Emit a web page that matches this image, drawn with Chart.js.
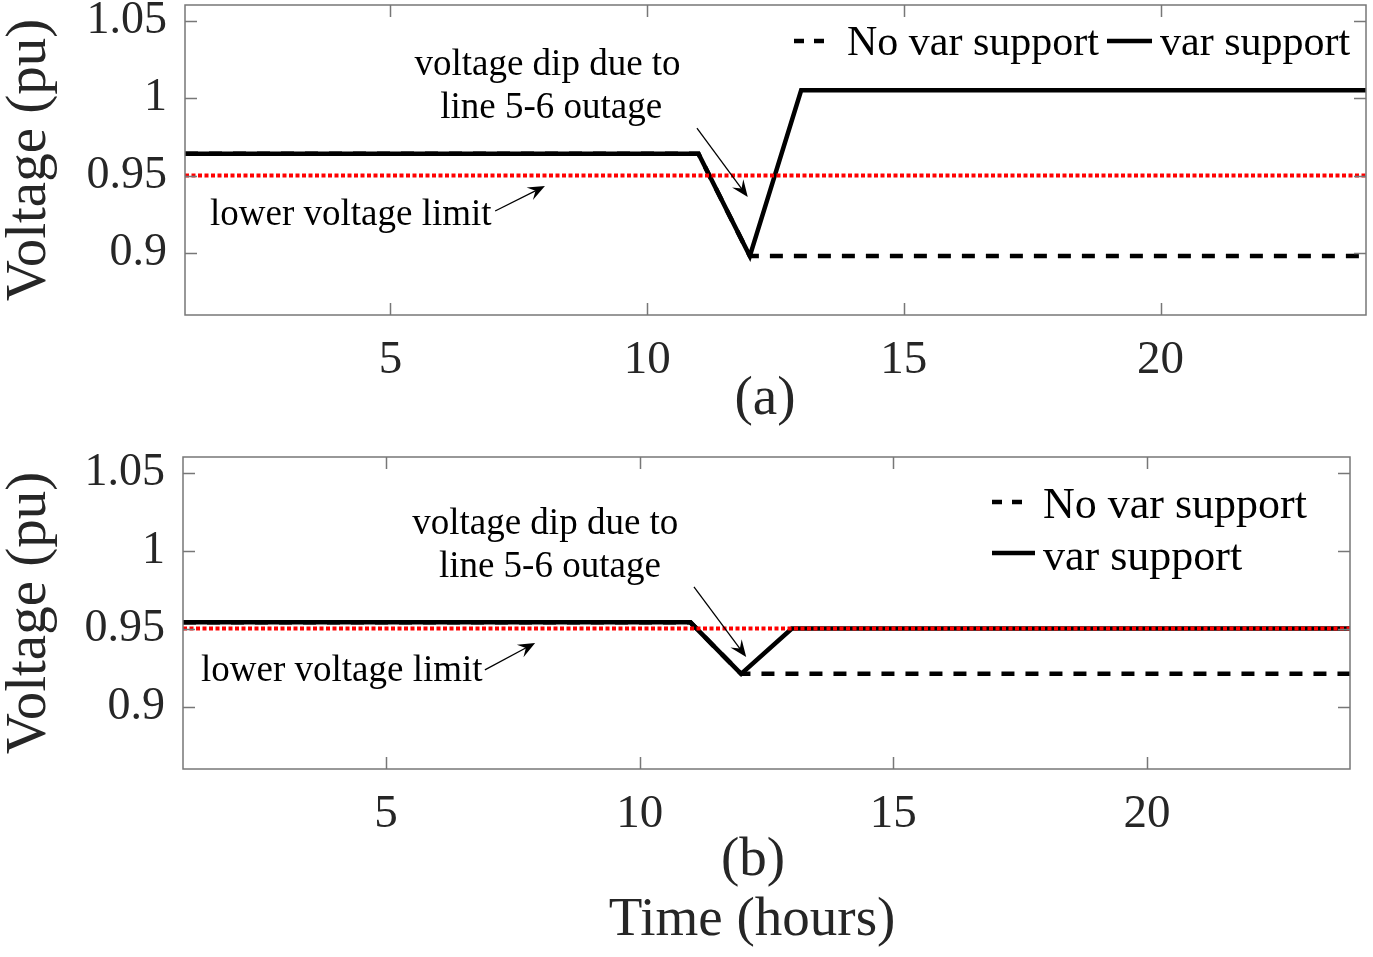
<!DOCTYPE html>
<html>
<head>
<meta charset="utf-8">
<script src="https://cdn.jsdelivr.net/npm/chart.js@4.4.0/dist/chart.umd.min.js"></script>
<style>
  html, body { margin: 0; padding: 0; background: #fff; }
  #wrap { position: relative; width: 1373px; height: 957px; }
  .box { position: absolute; left: 0; width: 1373px; }
</style>
</head>
<body>
<div id="wrap">
  <div class="box" style="top:0;height:440px"><canvas id="chartA"></canvas></div>
  <div class="box" style="top:440px;height:517px"><canvas id="chartB"></canvas></div>
</div>
<script>
// hours of the day
const hours = [1, 2, 3, 4, 5, 6, 7, 8, 9, 10, 11, 12, 13, 14, 15, 16, 17, 18, 19, 20, 21, 22, 23, 24];
const xTicks = [5, 10, 15, 20];
const yTicks = [0.9, 0.95, 1, 1.05];
const yTickLabels = ['0.9', '0.95', '1', '1.05'];

// lower voltage limit line
const limitHours = [1, 24];
const limitVals = [0.95, 0.95];

// (a)
const noVarA = [0.964, 0.964, 0.964, 0.964, 0.964, 0.964, 0.964, 0.964, 0.964, 0.964, 0.964, 0.898,
                0.898, 0.898, 0.898, 0.898, 0.898, 0.898, 0.898, 0.898, 0.898, 0.898, 0.898, 0.898];
const varA   = [0.964, 0.964, 0.964, 0.964, 0.964, 0.964, 0.964, 0.964, 0.964, 0.964, 0.964, 0.898,
                1.005, 1.005, 1.005, 1.005, 1.005, 1.005, 1.005, 1.005, 1.005, 1.005, 1.005, 1.005];

// (b)
const noVarB = [0.954, 0.954, 0.954, 0.954, 0.954, 0.954, 0.954, 0.954, 0.954, 0.954, 0.954, 0.921,
                0.921, 0.921, 0.921, 0.921, 0.921, 0.921, 0.921, 0.921, 0.921, 0.921, 0.921, 0.921];
const varB   = [0.954, 0.954, 0.954, 0.954, 0.954, 0.954, 0.954, 0.954, 0.954, 0.954, 0.954, 0.921,
                0.95, 0.95, 0.95, 0.95, 0.95, 0.95, 0.95, 0.95, 0.95, 0.95, 0.95, 0.95];

const SERIF = '"Liberation Serif", "Times New Roman", serif';

function pts(xs, ys) {
  return xs.map((x, i) => ({ x: x, y: ys[i] }));
}

function drawArrow(ctx, x0, y0, x1, y1) {
  const ang = Math.atan2(y1 - y0, x1 - x0);
  const len = 17, half = 7;
  ctx.beginPath();
  ctx.moveTo(x0, y0);
  ctx.lineTo(x1 - Math.cos(ang) * len * 0.6, y1 - Math.sin(ang) * len * 0.6);
  ctx.stroke();
  const bx = x1 - Math.cos(ang) * len, by = y1 - Math.sin(ang) * len;
  const nx = x1 - Math.cos(ang) * len * 0.62, ny = y1 - Math.sin(ang) * len * 0.62;
  ctx.beginPath();
  ctx.moveTo(x1, y1);
  ctx.lineTo(bx - Math.sin(ang) * half, by + Math.cos(ang) * half);
  ctx.lineTo(nx, ny);
  ctx.lineTo(bx + Math.sin(ang) * half, by - Math.cos(ang) * half);
  ctx.closePath();
  ctx.fill();
}

// frame with inward ticks, notes, arrows, x labels and legend
const extras = {
  id: 'extras',
  afterDraw(chart, args, opts) {
    const ctx = chart.ctx;
    const { left, right, top, bottom } = chart.chartArea;
    const xs = chart.scales.x, ys = chart.scales.y;
    ctx.save();

    ctx.strokeStyle = '#777';
    ctx.lineWidth = 1.5;
    ctx.setLineDash([]);
    ctx.strokeRect(left, top, right - left, bottom - top);
    ctx.beginPath();
    xTicks.forEach(v => {
      const px = Math.round(xs.getPixelForValue(v)) + 0.5;
      ctx.moveTo(px, bottom); ctx.lineTo(px, bottom - 12);
      ctx.moveTo(px, top); ctx.lineTo(px, top + 12);
    });
    yTicks.forEach(v => {
      const py = Math.round(ys.getPixelForValue(v)) + 0.5;
      ctx.moveTo(left, py); ctx.lineTo(left + 12, py);
      ctx.moveTo(right, py); ctx.lineTo(right - 12, py);
    });
    ctx.stroke();

    // x axis labels
    ctx.fillStyle = '#262626';
    ctx.textAlign = 'center';
    ctx.textBaseline = 'middle';
    ctx.font = '55px ' + SERIF;
    opts.xLabels.forEach(t => ctx.fillText(t.text, t.x, t.y));

    // text notes
    ctx.fillStyle = '#000';
    ctx.textBaseline = 'alphabetic';
    ctx.font = '37px ' + SERIF;
    opts.notes.forEach(n => {
      ctx.textAlign = n.align;
      ctx.fillText(n.text, xs.getPixelForValue(n.x), ys.getPixelForValue(n.y));
    });

    // arrows
    ctx.strokeStyle = '#000';
    ctx.lineWidth = 1.3;
    opts.arrows.forEach(a => {
      drawArrow(ctx, xs.getPixelForValue(a.x0), ys.getPixelForValue(a.y0),
                xs.getPixelForValue(a.x1), ys.getPixelForValue(a.y1));
    });

    // legend
    ctx.font = opts.legendFont + 'px ' + SERIF;
    ctx.textAlign = 'left';
    opts.legend.forEach(item => {
      const ds = chart.data.datasets[item.ds];
      ctx.strokeStyle = ds.borderColor;
      ctx.lineWidth = ds.borderWidth;
      ctx.setLineDash(item.dash || []);
      ctx.beginPath();
      ctx.moveTo(item.lx0, item.ly);
      ctx.lineTo(item.lx1, item.ly);
      ctx.stroke();
      ctx.setLineDash([]);
      ctx.fillText(ds.label, item.tx, item.ty);
    });
    ctx.restore();
  }
};

function makeChart(id, noVar, withVar, cfg) {
  return new Chart(document.getElementById(id), {
    type: 'line',
    data: {
      datasets: [
        {
          label: 'lower voltage limit',
          data: pts(limitHours, limitVals),
          borderColor: '#ff0000',
          borderWidth: 4,
          borderDash: [4, 2.5],
          pointRadius: 0,
          tension: 0
        },
        {
          label: 'var support',
          data: pts(hours, withVar),
          borderColor: '#000',
          borderWidth: 4.5,
          pointRadius: 0,
          tension: 0
        },
        {
          label: 'No var support',
          data: pts(hours, noVar),
          borderColor: '#000',
          borderWidth: 4.5,
          borderDash: [13, 11],
          pointRadius: 0,
          tension: 0
        }
      ]
    },
    options: {
      responsive: true,
      maintainAspectRatio: false,
      animation: false,
      layout: { padding: { top: cfg.padTop, right: cfg.padRight, left: 0, bottom: 0 } },
      plugins: {
        legend: { display: false },
        tooltip: { enabled: false },
        extras: cfg.extras
      },
      scales: {
        x: {
          type: 'linear',
          min: 1,
          max: 24,
          grid: { display: false, drawTicks: false },
          border: { display: false },
          afterBuildTicks: s => { s.ticks = xTicks.map(v => ({ value: v })); },
          afterFit: s => { s.height = cfg.xHeight; s.paddingLeft = 0; s.paddingRight = 0; },
          ticks: {
            color: '#262626',
            padding: 17,
            maxRotation: 0,
            font: { family: SERIF, size: 47 }
          }
        },
        y: {
          min: 0.86,
          max: 1.06,
          grid: { display: false, drawTicks: false },
          border: { display: false },
          afterBuildTicks: s => { s.ticks = yTicks.map(v => ({ value: v })); },
          afterFit: s => { s.width = cfg.yWidth; s.paddingTop = 0; s.paddingBottom = 0; },
          ticks: {
            color: '#262626',
            padding: 18,
            font: { family: SERIF, size: 46 },
            callback: v => yTickLabels[yTicks.indexOf(v)]
          },
          title: {
            display: true,
            text: 'Voltage (pu)',
            color: '#262626',
            font: { family: SERIF, size: 57, lineHeight: 1 },
            padding: { top: 2, bottom: 0 }
          }
        }
      }
    },
    plugins: [extras]
  });
}

makeChart('chartA', noVarA, varA, {
  padTop: 5, padRight: 7, yWidth: 185, xHeight: 125,
  extras: {
    legendFont: 42,
    xLabels: [{ text: '(a)', x: 765, y: 400 }],
    notes: [
      { text: 'voltage dip due to', x: 8.06, y: 1.0148, align: 'center' },
      { text: 'line 5-6 outage', x: 8.13, y: 0.9871, align: 'center' },
      { text: 'lower voltage limit', x: 1.487, y: 0.9181, align: 'left' }
    ],
    arrows: [
      { x0: 10.97, y0: 0.9806, x1: 11.96, y1: 0.9361 },
      { x0: 7.04, y0: 0.9271, x1: 8.01, y1: 0.9432 }
    ],
    legend: [
      { ds: 2, dash: [10, 10], lx0: 794, lx1: 824, ly: 41, tx: 847, ty: 55 },
      { ds: 1, lx0: 1107, lx1: 1152, ly: 41, tx: 1160, ty: 55 }
    ]
  }
});

makeChart('chartB', noVarB, varB, {
  padTop: 17, padRight: 23, yWidth: 183, xHeight: 188,
  extras: {
    legendFont: 44,
    xLabels: [
      { text: '(b)', x: 753, y: 421 },
      { text: 'Time (hours)', x: 752, y: 481 }
    ],
    notes: [
      { text: 'voltage dip due to', x: 8.14, y: 1.0106, align: 'center' },
      { text: 'line 5-6 outage', x: 8.23, y: 0.9831, align: 'center' },
      { text: 'lower voltage limit', x: 1.355, y: 0.9164, align: 'left' }
    ],
    arrows: [
      { x0: 11.07, y0: 0.9767, x1: 12.10, y1: 0.9318 },
      { x0: 6.95, y0: 0.9235, x1: 7.94, y1: 0.9408 }
    ],
    legend: [
      { ds: 2, dash: [10, 10], lx0: 992, lx1: 1030, ly: 62, tx: 1043, ty: 78 },
      { ds: 1, lx0: 992, lx1: 1035, ly: 113, tx: 1043, ty: 130 }
    ]
  }
});
</script>
</body>
</html>
